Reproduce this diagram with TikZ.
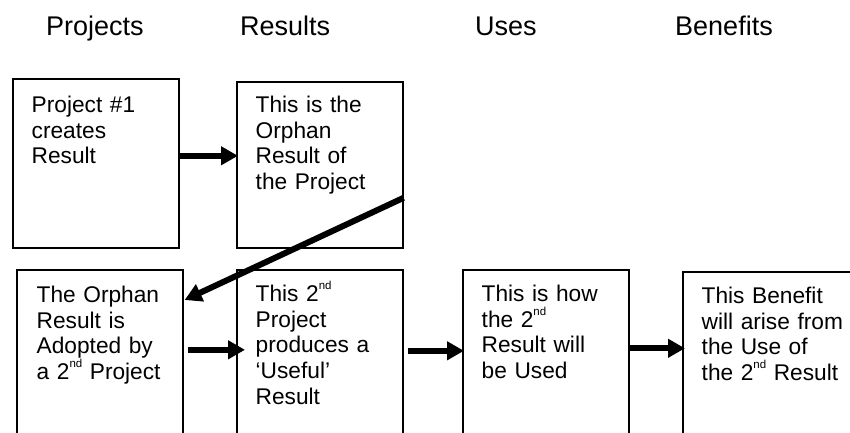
\documentclass[tikz,border=0pt]{standalone}
\usepackage{fontspec}
\setmainfont{Liberation Sans}
\usetikzlibrary{arrows.meta}
\newcommand\supnd{\smash{\raisebox{12pt}{\fontsize{11.5}{11.5}\selectfont nd}}}
\begin{document}
\begin{tikzpicture}[x=1pt,y=-1pt,
  box/.style={draw=black, line width=1.6pt, rectangle, inner sep=0pt, anchor=north west},
  txt/.style={anchor=north west, inner sep=0pt, align=left, text width=170pt, font=\fontsize{22.7}{25.8}\selectfont},
  hdr/.style={anchor=base west, inner sep=0pt, font=\fontsize{27}{32}\selectfont},
  arr/.style={line width=6pt, -{Triangle[length=17pt,width=18pt]}}]
\clip (0,0) rectangle (850,432);
\fill[white] (0,0) rectangle (850,432);
% headers
\node[hdr] (h1) at (46,35) {Projects};
\node[hdr] (h2) at (240,35) {Results};
\node[hdr] (h3) at (475,35) {Uses};
\node[hdr] (h4) at (675,35) {Benefits};
% boxes
\node[box, minimum width=166pt, minimum height=169pt] (b1) at (12,78) {};
\node[box, minimum width=166pt, minimum height=166pt] (b2) at (236,81) {};
\node[box, minimum width=166pt, minimum height=176pt] (b3) at (16,269) {};
\node[box, minimum width=166pt, minimum height=176pt] (b4) at (236,269) {};
\node[box, minimum width=166pt, minimum height=176pt] (b5) at (462,269) {};
\node[box, minimum width=180pt, minimum height=174pt] (b6) at (682,271) {};
% texts
\node[txt] (t1) at (31.5,94) {\strut Project \#1\\creates\\Result};
\node[txt] (t2) at (255.5,94) {\strut This is the\\Orphan\\Result of\\the Project};
\node[txt] (t3) at (36.5,284) {\strut The Orphan\\Result is\\Adopted by\\a 2\supnd{} Project};
\node[txt] (t4) at (255.5,283) {\strut This 2\supnd\\Project\\produces a\\‘Useful’\\Result};
\node[txt] (t5) at (481.5,283) {\strut This is how\\the 2\supnd\\Result will\\be Used};
\node[txt] (t6) at (701.5,285) {\strut This Benefit\\will arise from\\the Use of\\the 2\supnd{} Result};
% arrows
\draw[arr] ([yshift=7.5pt]b1.east) -- ([xshift=2pt,yshift=9pt]b2.west);
\draw[arr] ([yshift=-33pt]b2.east) -- ([xshift=1pt,yshift=-31pt]b3.north east);
\draw[arr] ([xshift=4pt,yshift=8pt]b3.east) -- ([xshift=9pt,yshift=8pt]b4.west);
\draw[arr] ([xshift=4pt,yshift=7pt]b4.east) -- ([xshift=2pt,yshift=7pt]b5.west);
\draw[arr] ([xshift=-1pt,yshift=9.5pt]b5.east) -- ([xshift=3pt,yshift=10.5pt]b6.west);
\end{tikzpicture}
\end{document}
